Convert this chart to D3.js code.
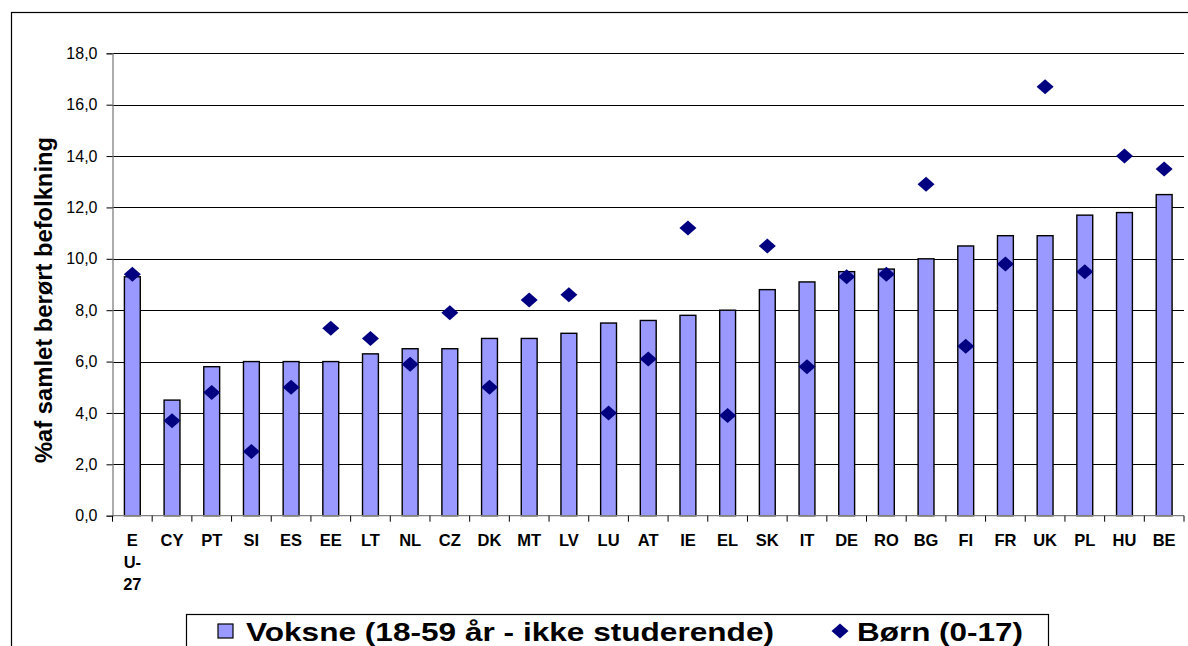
<!DOCTYPE html>
<html>
<head>
<meta charset="utf-8">
<script src="https://cdn.jsdelivr.net/npm/d3@7"></script>
<style>
  body { margin: 0; background: #fff; }
  svg { display: block; font-family: "Liberation Sans", Arial, sans-serif; }
</style>
</head>
<body>
<svg width="1188" height="646"></svg>
<script>
const countries = ["EU-27", "CY", "PT", "SI", "ES", "EE", "LT", "NL", "CZ", "DK", "MT", "LV", "LU",
  "AT", "IE", "EL", "SK", "IT", "DE", "RO", "BG", "FI", "FR", "UK", "PL", "HU", "BE"];
const adults = [9.3, 4.5, 5.8, 6.0, 6.0, 6.0, 6.3, 6.5, 6.5, 6.9, 6.9, 7.1, 7.5,
  7.6, 7.8, 8.0, 8.8, 9.1, 9.5, 9.6, 10.0, 10.5, 10.9, 10.9, 11.7, 11.8, 12.5];
const children = [9.4, 3.7, 4.8, 2.5, 5.0, 7.3, 6.9, 5.9, 7.9, 5.0, 8.4, 8.6, 4.0,
  6.1, 11.2, 3.9, 10.5, 5.8, 9.3, 9.4, 12.9, 6.6, 9.8, 16.7, 9.5, 14.0, 13.5];
const yTicks = [0, 2, 4, 6, 8, 10, 12, 14, 16, 18];
const seriesNames = ["Voksne (18-59 år - ikke studerende)", "Børn (0-17)"];

const svg = d3.select("svg");
const margin = { top: 53.3, left: 112.5, right: 1184, bottom: 515.7 };

// outer frame (cut off right and bottom)
svg.append("rect")
  .attr("x", 11.5).attr("y", 12.5)
  .attr("width", 1300).attr("height", 800)
  .attr("fill", "none").attr("stroke", "#000").attr("stroke-width", 1.2);

const x = d3.scaleBand()
  .domain(countries)
  .range([margin.left, margin.right])
  .paddingInner(0).paddingOuter(0);

const y = d3.scaleLinear()
  .domain([0, 18])
  .range([margin.bottom, margin.top]);

// grid lines
svg.append("g")
  .selectAll("line")
  .data(yTicks.filter(d => d > 0))
  .enter()
  .append("line")
  .attr("x1", margin.left).attr("x2", margin.right)
  .attr("y1", d => Math.round(y(d)) + 0.5).attr("y2", d => Math.round(y(d)) + 0.5)
  .attr("stroke", "#000").attr("stroke-width", 1);

// y axis
const yAxis = svg.append("g")
  .attr("transform", `translate(${margin.left},0)`)
  .call(d3.axisLeft(y).tickValues(yTicks).tickSize(6).tickPadding(9)
    .tickFormat(d => d3.format(".1f")(d).replace(".", ",")));
yAxis.select(".domain").attr("stroke", "#808080").attr("stroke-width", 1.3);
yAxis.selectAll(".tick line").attr("stroke", "#000");
yAxis.selectAll(".tick text").attr("font-size", 16).attr("fill", "#000")
  .attr("font-family", "'Liberation Sans', Arial, sans-serif");

// bars
const bw = x.bandwidth() / 2.5;
svg.append("g")
  .selectAll("rect")
  .data(countries)
  .enter()
  .append("rect")
  .attr("x", (d) => x(d) + (x.bandwidth() - bw) / 2)
  .attr("y", (d, i) => y(adults[i]))
  .attr("width", bw)
  .attr("height", (d, i) => y(0) - y(adults[i]))
  .attr("fill", "#9999FF")
  .attr("stroke", "#000")
  .attr("stroke-width", 1.4);

// x axis
const xAxisG = svg.append("g");
xAxisG.append("line")
  .attr("x1", margin.left).attr("x2", margin.right)
  .attr("y1", y(0)).attr("y2", y(0))
  .attr("stroke", "#808080").attr("stroke-width", 1.3);
xAxisG.selectAll(".xtick")
  .data(countries.concat(["end"]))
  .enter()
  .append("line")
  .attr("x1", (d, i) => margin.left + i * x.step())
  .attr("x2", (d, i) => margin.left + i * x.step())
  .attr("y1", y(0)).attr("y2", y(0) + 6)
  .attr("stroke", "#000");

const labels = xAxisG.selectAll(".xlab")
  .data(countries)
  .enter()
  .append("text")
  .attr("x", (d) => x(d) + x.bandwidth() / 2)
  .attr("y", 546)
  .attr("text-anchor", "middle")
  .attr("font-size", 16.5)
  .attr("font-weight", "bold");
labels.each(function (d) {
  const parts = d === "EU-27" ? ["E", "U-", "27"] : [d];
  d3.select(this).selectAll("tspan")
    .data(parts)
    .enter()
    .append("tspan")
    .attr("x", x(d) + x.bandwidth() / 2)
    .attr("dy", (p, j) => (j === 0 ? 0 : 22))
    .text((p) => p);
});

// diamonds
const diamond = "M0,-7.5L8.5,0L0,7.5L-8.5,0Z";
svg.append("g")
  .selectAll("path")
  .data(countries)
  .enter()
  .append("path")
  .attr("d", diamond)
  .attr("transform", (d, i) => `translate(${x(d) + x.bandwidth() / 2},${y(children[i])})`)
  .attr("fill", "#000080");

// y title
svg.append("text")
  .attr("transform", "translate(52,300) rotate(-90)")
  .attr("text-anchor", "middle")
  .attr("font-size", 24)
  .attr("font-weight", "bold")
  .attr("textLength", 326)
  .attr("lengthAdjust", "spacingAndGlyphs")
  .text("%af samlet berørt befolkning");

// legend
const leg = svg.append("g");
leg.append("rect")
  .attr("x", 186.5).attr("y", 614.5)
  .attr("width", 862).attr("height", 60)
  .attr("fill", "#fff").attr("stroke", "#000").attr("stroke-width", 1.2);
leg.append("rect")
  .attr("x", 218).attr("y", 624)
  .attr("width", 15).attr("height", 14)
  .attr("fill", "#9999FF").attr("stroke", "#000").attr("stroke-width", 1.2);
leg.append("text")
  .attr("x", 246).attr("y", 641)
  .attr("font-size", 26).attr("font-weight", "bold")
  .attr("textLength", 528).attr("lengthAdjust", "spacingAndGlyphs")
  .text(seriesNames[0]);
leg.append("path")
  .attr("d", diamond)
  .attr("transform", "translate(840,631)")
  .attr("fill", "#000080");
leg.append("text")
  .attr("x", 857).attr("y", 641)
  .attr("font-size", 26).attr("font-weight", "bold")
  .attr("textLength", 166).attr("lengthAdjust", "spacingAndGlyphs")
  .text(seriesNames[1]);
</script>
</body>
</html>
